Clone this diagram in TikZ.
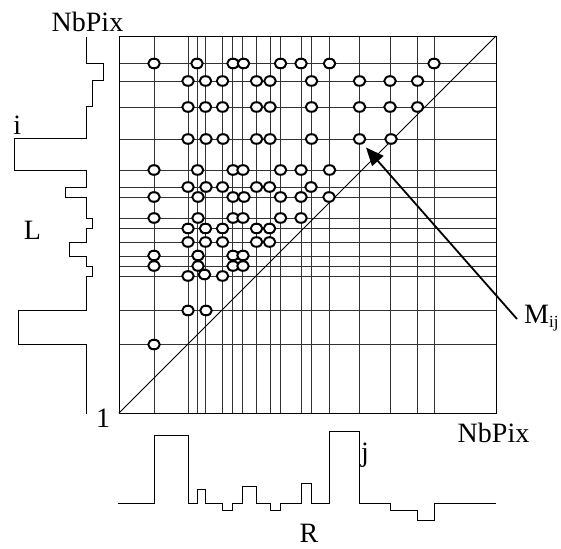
\documentclass[tikz,border=0pt]{standalone}
\usepackage{fontspec}
\setmainfont{Liberation Serif}
\usetikzlibrary{shapes.geometric,arrows.meta}
\begin{document}
\begin{tikzpicture}[x=1pt,y=-1pt,
  grid/.style={black!80,line width=0.9pt},
  frame/.style={black,line width=1pt},
  hist/.style={black,line width=1pt},
  diag/.style={black,line width=0.8pt},
  dot/.style={ellipse,draw=black,line width=2pt,fill=white,minimum width=11.5pt,minimum height=9.6pt,inner sep=0pt},
  lbl/.style={inner sep=0pt,font=\fontsize{28}{30}\selectfont,anchor=base},
  pointer/.style={line width=1.8pt,-{Triangle[length=18pt,width=15pt]}}]
\useasboundingbox (0,0) rectangle (561,548);

% grid
\foreach \x in {154,188,197,205.5,222.5,232.7,242.7,256.7,270,280,301,311,329,359,390,417,434}
  \draw[grid] (\x,37) -- (\x,413);
\foreach \y in {63.5,81,107,139,170,187,197,218,228.5,242,256,266,276,310.5,344.5}
  \draw[grid] (119,\y) -- (496,\y);
\draw[frame] (119,37) rectangle (496,413);
\draw[diag] (119,413) -- (496,36);

% matches
\foreach \y/\xs [count=\r] in {
  63.5/{154,197,233,243.5,280.5,301,329.5,434},
  81/{188,205.5,222.5,256.5,270,311.5,359.5,390,417.5},
  107/{188,205.5,222.5,256.5,270,311.5,359.5,390,417.5},
  139/{188,206,223,256.5,270,311.5,359.5,391},
  170/{154,197.5,233,243,280.5,301,329.5},
  187/{188,206,222.5,256.5,269.5,311},
  197/{154,198,233,244,280.5,301,329},
  218/{154,198,233,243,280.5,301},
  228.5/{188,205.5,222.5,256.5,269.5},
  242/{188,205.5,222.5,256.5,269.5},
  255.5/{154,198,233,243},
  266/{154,198,233,243},
  276/{188,222.5},
  310.5/{188,206},
  344.5/{154}}
{
  \foreach \x [count=\c] in \xs
    \node[dot] (d\r-\c) at (\x,\y) {};
}
\node[dot] (d13-3) at (204.5,274.5) {};

% left histogram L
\draw[hist] (86.7,37) -- (86.7,63.5) -- (103.3,63.5) -- (103.3,81) -- (92.7,81) -- (92.7,107)
  -- (86.7,107) -- (86.7,139) -- (14,139) -- (14,170) -- (86.7,170) -- (86.7,187)
  -- (65.7,187) -- (65.7,197) -- (86.7,197) -- (86.7,218) -- (92.7,218) -- (92.7,228.5)
  -- (86.7,228.5) -- (86.7,242) -- (69.3,242) -- (69.3,256) -- (86.7,256) -- (86.7,266)
  -- (92.7,266) -- (92.7,276) -- (86.7,276) -- (86.7,310.5) -- (18.3,310.5) -- (18.3,344.5)
  -- (86.7,344.5) -- (86.7,414);

% bottom histogram R
\draw[hist] (118,503.3) -- (154,503.3) -- (154,435.5) -- (188,435.5) -- (188,503.3)
  -- (197,503.3) -- (197,489.3) -- (205.5,489.3) -- (205.5,503.3) -- (222.5,503.3)
  -- (222.5,510) -- (232.7,510) -- (232.7,503.3) -- (242.7,503.3) -- (242.7,486)
  -- (256.7,486) -- (256.7,503.3) -- (270,503.3) -- (270,510) -- (280,510) -- (280,503.3)
  -- (301,503.3) -- (301,483.3) -- (311,483.3) -- (311,503.3) -- (329,503.3) -- (329,431.7)
  -- (359,431.7) -- (359,503.3) -- (390,503.3) -- (390,510) -- (417,510) -- (417,520.7)
  -- (434,520.7) -- (434,503.3) -- (496,503.3);

% labels
\node[lbl] (nbtop) at (87.5,31.5) {NbPix};
\node[lbl] (ilbl) at (17.3,135) {i};
\node[lbl] (Llbl) at (32.5,239) {L};
\node[lbl] (one) at (103,427) {1};
\node[lbl] (nbright) at (493.5,442) {NbPix};
\node[lbl] (jlbl) at (365,461) {j};
\node[lbl] (Rlbl) at (309,542) {R};
\node[lbl,anchor=base west] (M) at (524,323) {M\raisebox{-4pt}{\fontsize{17}{17}\selectfont ij}};

% pointer
\coordinate (tail) at (517,319);
\coordinate (tip) at (366,147.5);
\draw[pointer] (tail) -- (tip);
\end{tikzpicture}
\end{document}
